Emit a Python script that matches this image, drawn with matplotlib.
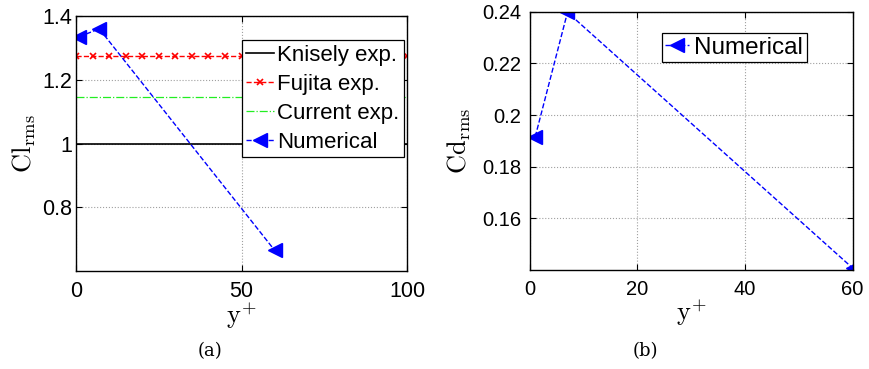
import numpy as np
import matplotlib.pyplot as plt
from matplotlib.ticker import FormatStrFormatter

plt.rcParams['font.family'] = ['Liberation Sans', 'DejaVu Sans']
plt.rcParams['mathtext.fontset'] = 'cm'

# data
yplus = [1, 7, 60]
cl_num = [1.335, 1.36, 0.665]
cd_num = [0.1916, 0.2398, 0.1408]
exp_x = np.arange(0, 101, 5)
cl_knisely = 1.0
cl_fujita = 1.275
cl_current = 1.145

fig = plt.figure(figsize=(8.7, 3.69), dpi=100)

def style(ax, size, ypad):
    ax.grid(True, color='#a0a0a0', linestyle=':', linewidth=0.8)
    ax.tick_params(direction='in', top=True, right=True, labelsize=size, length=4)
    ax.tick_params(axis='x', pad=7)
    ax.tick_params(axis='y', pad=ypad)
    for s in ax.spines.values():
        s.set_linewidth(1.0)

# (a) lift
ax = fig.add_axes([0.0874, 0.2656, 0.3804, 0.691])
ax.plot(exp_x, [cl_knisely] * len(exp_x), '-', color='k', lw=1.2, label='Knisely exp.')
ax.plot(exp_x, [cl_fujita] * len(exp_x), '--x', color='r', lw=1.0, ms=5, mew=1.2, label='Fujita exp.')
ax.plot(exp_x, [cl_current] * len(exp_x), '-.', color='#22ee22', lw=0.9, label='Current exp.')
ax.plot(yplus, cl_num, '--<', color='b', lw=1.0, ms=10, label='Numerical')
ax.set_xlim(0, 100)
ax.set_ylim(0.6, 1.4)
ax.set_xticks([0, 50, 100])
ax.set_yticks([0.8, 1.0, 1.2, 1.4])
ax.yaxis.set_major_formatter(FormatStrFormatter('%g'))
style(ax, 15.5, 3)
ax.set_xlabel(r'$\mathrm{y}^{+}$', fontsize=19, labelpad=-1)
ax.set_ylabel(r'$\mathrm{Cl}_{\mathrm{rms}}$', fontsize=19, labelpad=3)
leg = ax.legend(loc='upper left', bbox_to_anchor=(0.50, 0.905), fontsize=16,
                handlelength=1.25, handletextpad=0.15, borderpad=0.2, labelspacing=0.36,
                borderaxespad=0, fancybox=False, framealpha=1, edgecolor='k')
leg.get_frame().set_linewidth(0.9)
fig.text(0.2414, 0.035, '(a)', fontsize=13, family='DejaVu Serif', ha='center')

# (b) drag
ax = fig.add_axes([0.609, 0.268, 0.371, 0.70])
ax.plot(yplus, cd_num, '--<', color='b', lw=1.0, ms=10, label='Numerical')
ax.set_xlim(0, 60)
ax.set_ylim(0.14, 0.24)
ax.set_xticks([0, 20, 40, 60])
ax.set_yticks([0.16, 0.18, 0.2, 0.22, 0.24])
ax.yaxis.set_major_formatter(FormatStrFormatter('%g'))
style(ax, 14.5, 6)
ax.set_xlabel(r'$\mathrm{y}^{+}$', fontsize=19, labelpad=-1)
ax.set_ylabel(r'$\mathrm{Cd}_{\mathrm{rms}}$', fontsize=19, labelpad=7)
leg = ax.legend(loc='upper left', bbox_to_anchor=(0.408, 0.918), fontsize=17.5,
                handlelength=1.0, handletextpad=0.2, borderpad=0.15,
                borderaxespad=0, fancybox=False, framealpha=1, edgecolor='k')
leg.get_frame().set_linewidth(0.9)
fig.text(0.7414, 0.035, '(b)', fontsize=13, family='DejaVu Serif', ha='center')

fig.savefig('out.png', dpi=100)
